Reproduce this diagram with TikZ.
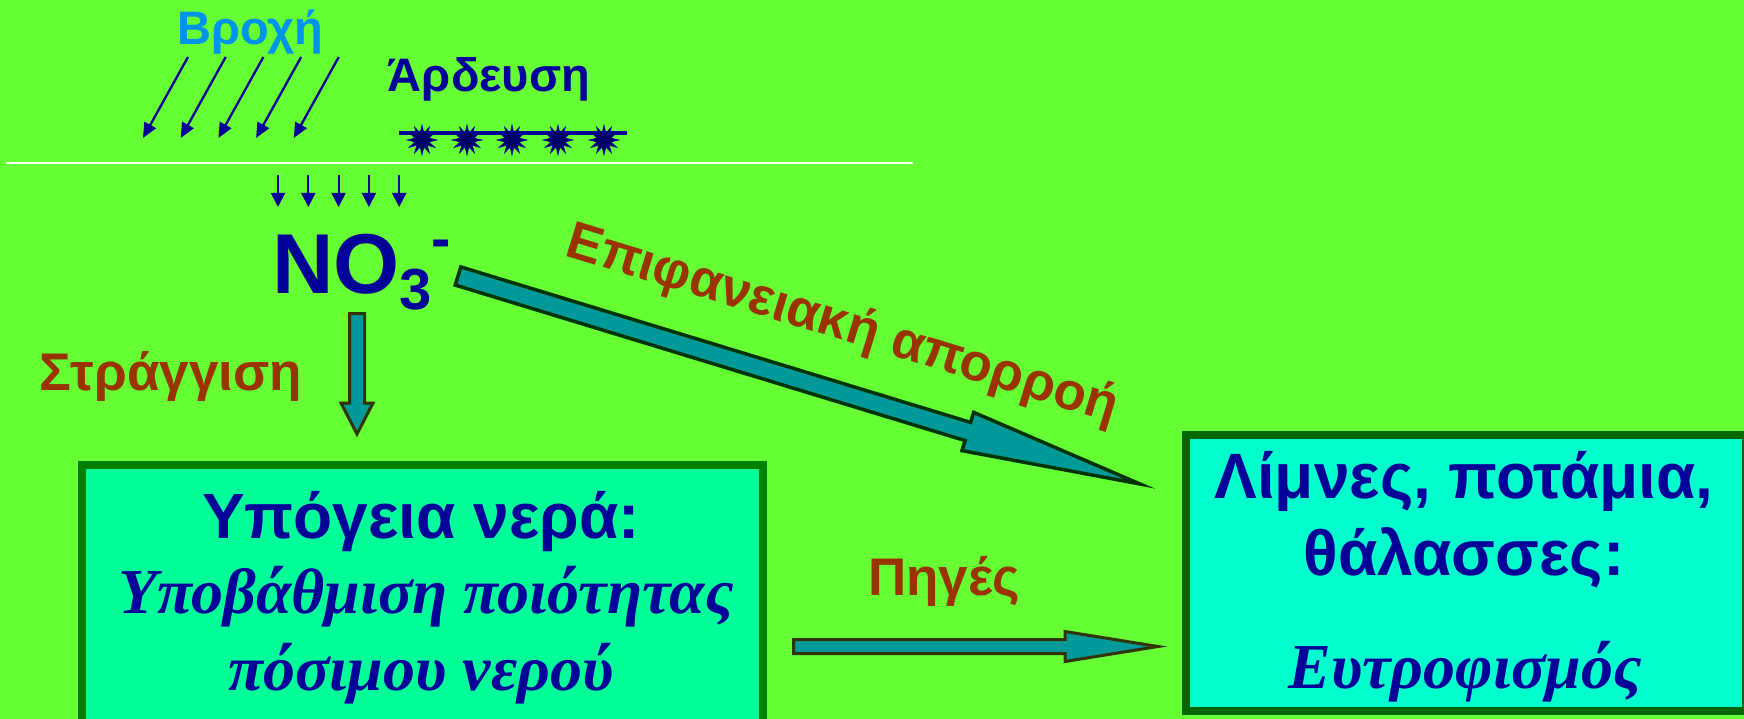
\documentclass[tikz,border=0pt]{standalone}
\usepackage{fontspec}
\setmainfont{Liberation Sans}
\newfontfamily\tnr{Liberation Serif}
\usetikzlibrary{calc,arrows.meta,shapes.geometric}
\definecolor{bg}{HTML}{66FF33}
\definecolor{navy}{HTML}{000099}
\definecolor{starc}{HTML}{000066}
\definecolor{rainc}{RGB}{0,148,238}
\definecolor{brownred}{HTML}{993300}
\definecolor{teal1}{HTML}{009999}
\definecolor{olive1}{HTML}{333300}
\definecolor{dgreen1}{HTML}{003300}
\definecolor{boxAfill}{HTML}{00FF99}
\definecolor{boxAline}{HTML}{008000}
\definecolor{boxBfill}{HTML}{00FFCC}
\definecolor{boxBline}{HTML}{006600}
\newcommand\blockarr[6][]{%
  \coordinate (ba-h) at ($(#3)!#6!(#2)$);
  \draw[#1] ($(#2)!#4!90:(#3)$) -- ($(ba-h)!#4!90:(#3)$) -- ($(ba-h)!#5!90:(#3)$)
    -- (#3) -- ($(ba-h)!#5!-90:(#3)$) -- ($(ba-h)!#4!-90:(#3)$) -- ($(#2)!#4!-90:(#3)$) -- cycle;
}
\tikzset{
  rainarrow/.style={draw=navy, line width=2.3pt, -{Triangle[length=15pt,width=13pt]}},
  droparrow/.style={draw=navy, line width=2pt, -{Triangle[length=14pt,width=14pt]}},
  lbl/.style={inner sep=0pt, anchor=base, text=brownred, font=\bfseries\fontsize{53}{60}\selectfont},
  head/.style={inner sep=0pt, anchor=base, text=navy, font=\bfseries\fontsize{64}{70}\selectfont},
  ital/.style={inner sep=0pt, anchor=base, text=navy, font=\tnr\bfseries\itshape\fontsize{64}{70}\selectfont},
  burst/.style={star, star points=12, star point ratio=2.1, minimum size=30pt, inner sep=0pt, fill=starc, draw=navy, line width=0.6pt},
  flowA/.style={fill=teal1, draw=olive1, line width=3pt, line join=miter},
  flowB/.style={fill=teal1, draw=dgreen1, line width=3.5pt, line join=miter},
  boxA/.style={draw=boxAline, fill=boxAfill, line width=8pt, minimum width=681pt, minimum height=265pt, inner sep=0pt},
  boxB/.style={draw=boxBline, fill=boxBfill, line width=8pt, minimum width=560pt, minimum height=276pt, inner sep=0pt},
}
\begin{document}
\begin{tikzpicture}[x=1pt,y=-1pt]
\useasboundingbox (0,0) rectangle (1744,719);
\fill[bg] (0,0) rectangle (1744,719);
% boxes
\node[boxA] (gw) at (422.5,597.5) {};
\node[boxB] (sw) at (1466,573) {};
% rain
\node[inner sep=0pt, anchor=base, text=rainc, font=\bfseries\fontsize{47}{50}\selectfont] (rain) at (250,45) {Βροχή};
\foreach \i in {0,...,4}{
  \coordinate (rs\i) at ({188+37.7*\i},57);
  \coordinate (re\i) at ({143+37.7*\i},138);
  \draw[rainarrow] (rs\i) -- (re\i);
}
% burning
\node[inner sep=0pt, anchor=base, text=navy, font=\bfseries\fontsize{47}{50}\selectfont] (burn) at (489,92) {Άρδευση};
\coordinate (bl) at (399,133);
\coordinate (br) at (627,133);
\draw[navy, line width=4.5pt] (bl) -- (br);
\foreach \x [count=\k] in {422,467,512,558,604}{
  \node[burst] (st\k) at (\x,140) {};
}
% ground line
\coordinate (gl) at (6,163);
\coordinate (gr) at (913,163);
\draw[white, line width=2pt] (gl) -- (gr);
% infiltration arrows
\foreach \i in {0,...,4}{
  \coordinate (ds\i) at ({278+30.3*\i},175);
  \coordinate (de\i) at ({278+30.3*\i},207);
  \draw[droparrow] (ds\i) -- (de\i);
}
% NO3-
\node[inner sep=0pt, anchor=base west, text=navy, font=\bfseries\fontsize{85}{90}\selectfont] (no3) at (272,293)
  {NO\raisebox{-17pt}{\fontsize{58}{60}\selectfont 3}\raisebox{35pt}{\fontsize{58}{60}\selectfont -}};
% leaching
\coordinate (va) at (357,313.5);
\coordinate (vb) at (357,434);
\blockarr[flowA]{va}{vb}{7.5pt}{16pt}{31pt}
\node[lbl] (leach) at (171,390) {Στράγγιση};
% runoff
\coordinate (da) at (458,276);
\coordinate (db) at (1140,484);
\blockarr[flowB]{da}{db}{9.5pt}{20pt}{180pt}
\node[inner sep=0pt, anchor=base west, text=brownred, rotate=-17, font=\bfseries\fontsize{53}{60}\selectfont] (runoff) at (563,255) {Επιφανειακή απορροή};
% springs
\coordinate (ha) at (793.5,646.5);
\coordinate (hb) at (1158,646.5);
\blockarr[flowA]{ha}{hb}{7pt}{15pt}{93pt}
\node[lbl] (springs) at (944,595) {Πηγές};
% box texts
\node[head] (gw1) at (421,538) {Υπόγεια νερά:};
\node[ital] (gw2) at (426,613) {Υποβάθμιση ποιότητας};
\node[ital] (gw3) at (421,690) {πόσιμου νερού};
\node[head] (sw1) at (1464,498) {Λίμνες, ποτάμια,};
\node[head] (sw2) at (1464,575) {θάλασσες:};
\node[ital] (sw3) at (1465,688) {Ευτροφισμός};
\end{tikzpicture}
\end{document}
